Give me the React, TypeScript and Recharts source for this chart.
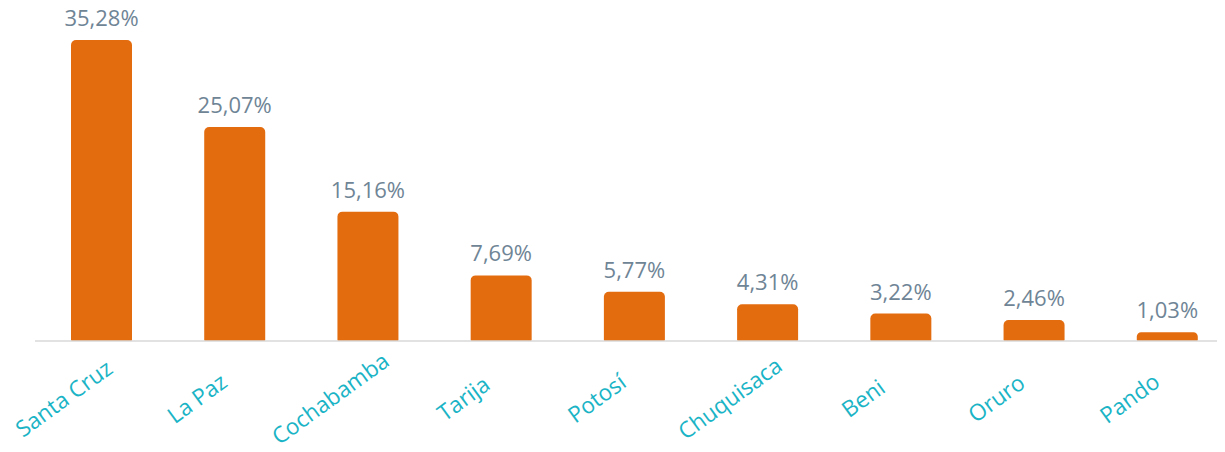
import React from 'react';
import { BarChart, Bar, XAxis, YAxis, LabelList } from 'recharts';

const departments = ["Santa Cruz", "La Paz", "Cochabamba", "Tarija", "Potosí", "Chuquisaca", "Beni", "Oruro", "Pando"];
const shares = [35.28, 25.07, 15.16, 7.69, 5.77, 4.31, 3.22, 2.46, 1.03];

const chartData = departments.map((name, i) => ({ name, share: shares[i] }));

const fmt = (v: number) => v.toFixed(2).replace('.', ',') + '%';

const CategoryTick = (props: any) => {
  const { x, y, payload } = props;
  const cx = x - 38;
  const cy = y + 55;
  return (
    <text
      x={cx}
      y={cy}
      textAnchor="middle"
      dominantBaseline="central"
      transform={`rotate(-36, ${cx}, ${cy})`}
      fill="#1ab4c6"
      fontSize={22.5}
      fontFamily="'Open Sans', sans-serif"
    >
      {payload.value}
    </text>
  );
};

const ValueLabel = (props: any) => {
  const { x, y, width, value } = props;
  return (
    <text
      x={x + width / 2}
      y={y - 14}
      textAnchor="middle"
      fill="#6f8596"
      fontSize={22}
      fontFamily="'Open Sans', sans-serif"
    >
      {fmt(value)}
    </text>
  );
};

export default function App() {
  // cancel the body margin so the chart sits on the page edges like the reference
  return (
    <div style={{ width: 1225, height: 452, margin: '-8px 0 0 -8px', overflow: 'hidden' }}>
      <BarChart
        width={1238}
        height={452}
        data={chartData}
        margin={{ top: 40, right: 4, left: 35, bottom: 0 }}
      >
        <XAxis
          dataKey="name"
          interval={0}
          height={111}
          tickLine={false}
          tickSize={0}
          axisLine={{ stroke: '#d9d9d9', strokeWidth: 1.5 }}
          tick={<CategoryTick />}
        />
        <YAxis hide domain={[0, 'dataMax']} />
        <Bar dataKey="share" fill="#e36c0f" barSize={61} radius={[5, 5, 1, 1]} isAnimationActive={false}>
          <LabelList dataKey="share" content={<ValueLabel />} />
        </Bar>
      </BarChart>
    </div>
  );
}
